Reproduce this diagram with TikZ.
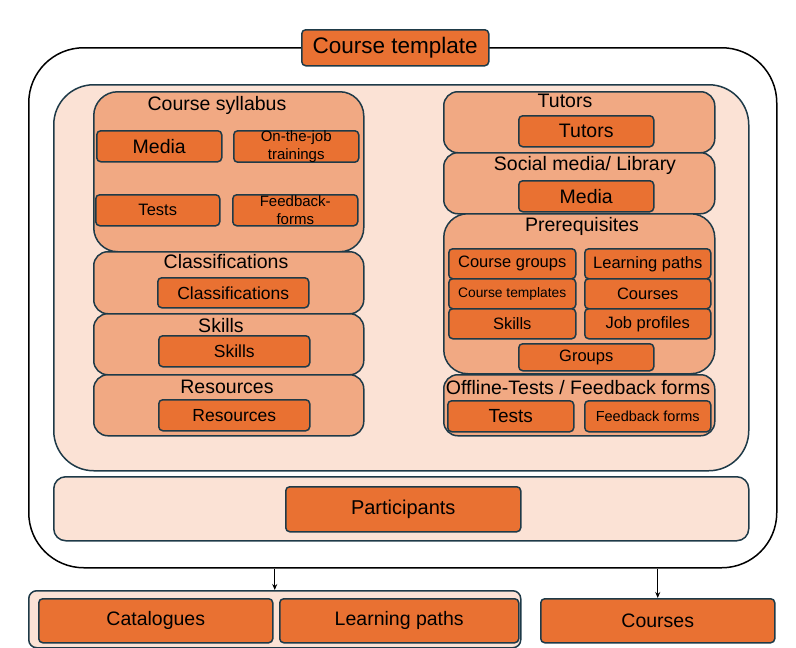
\documentclass[tikz,border=0pt]{standalone}
\usepackage{fontspec}
\setmainfont{Liberation Sans}
\usetikzlibrary{arrows.meta}
\definecolor{dorange}{HTML}{E97132}
\definecolor{morange}{HTML}{F1A983}
\definecolor{lorange}{HTML}{FBE2D5}
\definecolor{bord}{HTML}{1E3A48}
\tikzset{
  base/.style={draw=bord, line width=1.5pt, inner sep=0pt, align=center, text=black},
  leaf/.style={base, fill=dorange, rounded corners=4pt},
  group/.style={base, fill=morange, rounded corners=14pt},
  light/.style={base, fill=lorange},
  ttl/.style={inner sep=0pt, text=black, font=\fontsize{19.5}{21}\selectfont},
  arr/.style={-{Stealth[length=6pt,width=5pt]}, line width=1.2pt, black},
}
\newcommand\fs[1]{\fontsize{#1}{#1}\selectfont}
% #1 style, #2 x1, #3 y1, #4 x2, #5 y2, #6 name, #7 text
\newcommand\bx[7]{\node[#1, minimum width={(#4)-(#2)}, minimum height={(#5)-(#3)}, anchor=north west] (#6) at (#2,#3) {#7};}
\begin{document}
\begin{tikzpicture}[x=1pt,y=-1pt]
\useasboundingbox (0,0) rectangle (796,648);
% outer frame
\node[draw=black, line width=1.5pt, rounded corners=55pt, minimum width=748, minimum height=520, anchor=north west] (outer) at (28,47) {};
\bx{leaf,font=\fs{22.5}}{301}{29}{488}{65}{ct}{Course template}
% inner light boxes
\bx{light,rounded corners=40pt}{53}{84}{748}{470}{inner}{}
\bx{light,rounded corners=12pt}{53}{476}{748}{540}{partbox}{}
\bx{leaf,font=\fs{20}}{285}{486}{520}{531}{part}{Participants}
% ---- left column
\bx{group,rounded corners=24pt}{93}{91}{363}{251}{syl}{}
\node[ttl] (sylt) at (217,105) {Course syllabus};
\bx{leaf,font=\fs{19.5}}{96}{130}{221}{161}{media1}{Media}
\bx{leaf,font=\fontsize{15}{17.5}\selectfont}{233}{130}{358}{160}{otj}{On-the-job\\trainings}
\bx{leaf,font=\fs{16.5}}{95}{194}{219}{225}{tests1}{Tests}
\bx{leaf,font=\fontsize{15}{17.5}\selectfont}{232}{194}{357}{225}{fbf}{Feedback-\\forms}
\bx{group}{93}{251}{363}{313}{cls}{}
\node[ttl] (clst) at (226,262) {Classifications};
\bx{leaf,font=\fs{17.5}}{157}{277}{308}{307}{cls2}{Classifications}
\bx{group}{93}{313}{363}{374}{skl}{}
\node[ttl] (sklt) at (221,326) {Skills};
\bx{leaf,font=\fs{17.5}}{158}{335}{309}{366}{skl2}{Skills}
\bx{group}{93}{374}{363}{435}{res}{}
\node[ttl] (rest) at (227,387) {Resources};
\bx{leaf,font=\fs{17.5}}{158}{399}{309}{430}{res2}{Resources}
% ---- right column
\bx{group}{443}{91}{714}{152}{tut}{}
\node[ttl] (tutt) at (565,101) {Tutors};
\bx{leaf,font=\fs{19.5}}{518}{115}{653}{146}{tut2}{Tutors}
\bx{group}{443}{152}{714}{213}{soc}{}
\node[ttl] (soct) at (585,165) {Social media/ Library};
\bx{leaf,font=\fs{19.5}}{518}{180}{653}{211}{media2}{Media}
\bx{group,rounded corners=24pt}{443}{213}{714}{373}{pre}{}
\node[ttl] (pret) at (582,226) {Prerequisites};
\bx{leaf,font=\fs{16.5}}{448}{248}{575}{278}{cg}{Course groups}
\bx{leaf,font=\fs{13.8}}{448}{278}{575}{308}{ctp}{Course templates}
\bx{leaf,font=\fs{16.5}}{448}{308}{575}{338}{psk}{Skills}
\bx{leaf,font=\fs{16.5}}{584}{248}{710}{278}{lp}{Learning paths}
\bx{leaf,font=\fs{16.5}}{584}{278}{710}{308}{crs}{Courses}
\bx{leaf,font=\fs{16.5}}{584}{308}{710}{338}{jp}{Job profiles}
\bx{leaf,font=\fs{16.5}}{518}{343}{653}{370}{grp}{Groups}
\bx{group}{443}{374}{714}{435}{off}{}
\node[ttl] (offt) at (578,388) {Offline-Tests / Feedback forms};
\bx{leaf,font=\fs{19}}{447}{400}{573}{431}{tests2}{Tests}
\bx{leaf,font=\fs{14.5}}{584}{400}{710}{431}{fb2}{Feedback forms}
% ---- bottom
\bx{light,rounded corners=8pt}{28}{590}{520}{647}{cont}{}
\bx{leaf,font=\fs{19.5}}{38}{598}{272}{642}{cat}{Catalogues}
\bx{leaf,font=\fs{19.5}}{279}{598}{518}{642}{lpb}{Learning paths}
\bx{leaf,font=\fs{19.5}}{540}{598}{774}{642}{crsb}{Courses}
\draw[arr] (outer.south -| cont.north) -- (cont.north);
\draw[arr] (outer.south -| crsb.north) -- (crsb.north);
\end{tikzpicture}
\end{document}
